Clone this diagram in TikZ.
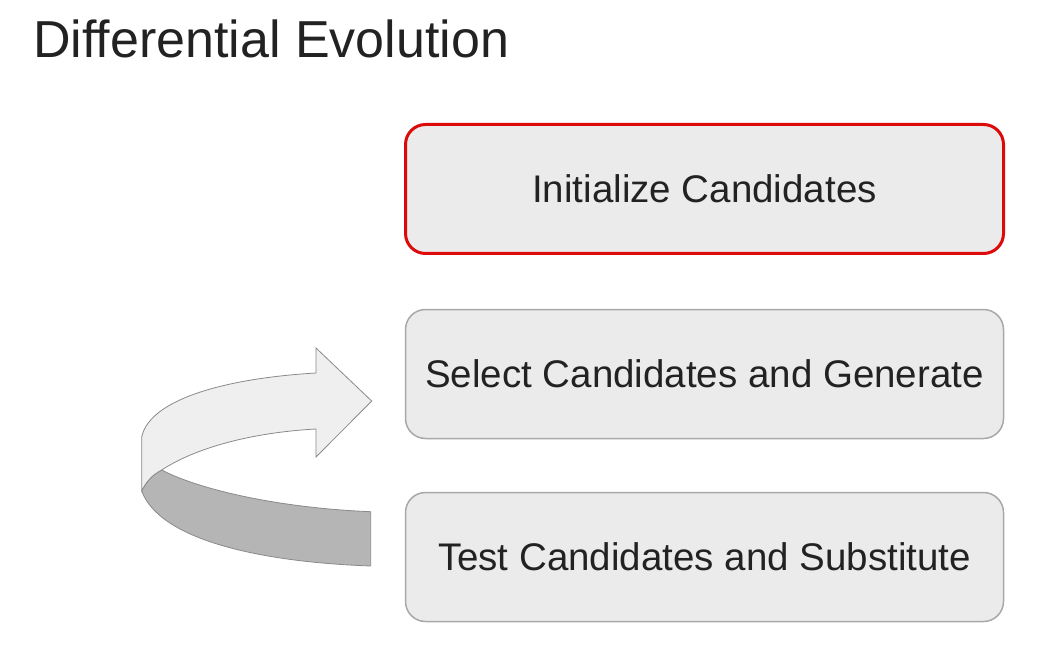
\documentclass[tikz,border=0pt]{standalone}
\usepackage{fontspec}
\setmainfont{Liberation Sans}
\usepackage{tikz}

\definecolor{boxfill}{HTML}{EBEBEB}
\definecolor{boxline}{HTML}{A8A8A8}
\definecolor{initred}{HTML}{DD0A0A}
\definecolor{ribbonlight}{HTML}{EFEFEF}
\definecolor{ribbondark}{HTML}{B5B5B5}
\definecolor{ribbonline}{HTML}{8A8A8A}
\definecolor{textdark}{HTML}{222222}

\tikzset{
  stepbox/.style={draw=boxline, line width=1.5pt, fill=boxfill, rounded corners=20pt,
    minimum width=598pt, minimum height=129pt, text=textdark,
    font=\fontsize{38.5}{44}\selectfont},
  firstbox/.style={stepbox, draw=initred, line width=3pt}
}

\begin{document}
\begin{tikzpicture}[x=1pt, y=-1pt]
            \useasboundingbox (0,0) rectangle (1038,652);
            \node[anchor=base west, inner sep=0pt, text=textdark, font=\fontsize{52}{60}\selectfont] (title) at (33,58) {Differential Evolution};
            \node[firstbox] (init) at (704.5,189) {Initialize Candidates};
            \node[stepbox] (select) at (704.5,374) {Select Candidates and Generate};
            \node[stepbox] (test) at (704.5,557) {Test Candidates and Substitute};
            % dark back of the ribbon
            \filldraw[draw=ribbonline, fill=ribbondark, line width=0.8pt]
                (141.7,491) .. controls (146,482) and (152,475) .. (161.7,470)
                .. controls (200,490) and (280,508) .. (370.7,511.7)
                -- (370.7,566)
                .. controls (260,562) and (160,540) .. (141.7,491) -- cycle;
            % light front with the arrow head
            \filldraw[draw=ribbonline, fill=ribbonlight, line width=0.8pt]
                (316,373) .. controls (230,378) and (150,398) .. (141.7,437)
                -- (141.7,491)
                .. controls (146,482) and (152,475) .. (161.7,470)
                .. controls (200,445) and (260,432) .. (316,429)
                -- (316,457) -- (371.7,401) -- (316,348) -- cycle;
        \end{tikzpicture}
\end{document}
